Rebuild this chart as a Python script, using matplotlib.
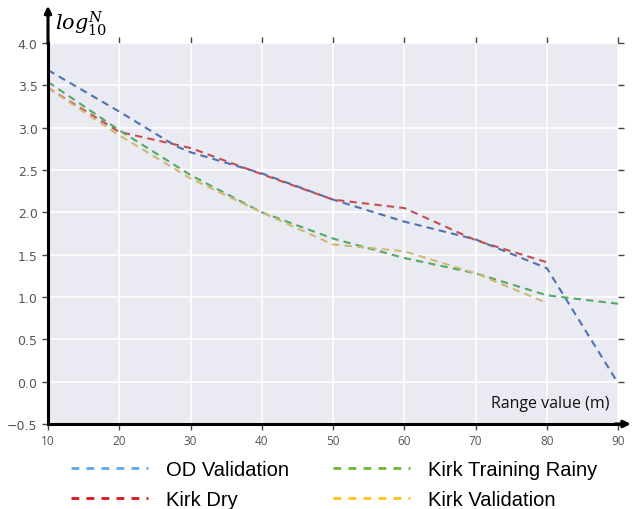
import matplotlib
matplotlib.use('Agg')
import matplotlib.pyplot as plt
from matplotlib.lines import Line2D
import numpy as np

# values (log10 N against range in m)
od_x = [10, 20, 28, 30, 40, 50, 60, 70, 80, 90]
od_y = [3.68, 3.19, 2.78, 2.71, 2.46, 2.15, 1.89, 1.68, 1.34, -0.02]

dry_x = [10, 20, 30, 40, 50, 60, 70, 80]
dry_y = [3.47, 2.95, 2.76, 2.45, 2.15, 2.05, 1.67, 1.41]

rainy_x = [10, 20, 30, 40, 50, 60, 70, 80, 90]
rainy_y = [3.54, 2.97, 2.44, 2.00, 1.69, 1.46, 1.28, 1.02, 0.92]

val_x = [10, 20, 30, 40, 50, 60, 70, 80]
val_y = [3.47, 2.91, 2.40, 2.00, 1.62, 1.54, 1.28, 0.93]

x_ticks = [10, 20, 30, 40, 50, 60, 70, 80, 90]
y_ticks = [-0.5, 0.0, 0.5, 1.0, 1.5, 2.0, 2.5, 3.0, 3.5, 4.0]

fig = plt.figure(figsize=(6.34, 5.10), dpi=100)
ax = fig.add_axes([0.0757, 0.1667, 0.8993, 0.747])
ax.set_facecolor('#EAEAF2')

dash = (0, (3.5, 2.5))
ax.plot(od_x, od_y, linestyle=dash, color='#4C72B0', lw=1.5)
ax.plot(dry_x, dry_y, linestyle=dash, color='#C44E52', lw=1.5)
ax.plot(rainy_x, rainy_y, linestyle=dash, color='#55A868', lw=1.5)
ax.plot(val_x, val_y, linestyle=dash, color='#CCB974', lw=1.5)

ax.set_xlim(10, 90)
ax.set_ylim(-0.5, 4.0)
ax.set_xticks(x_ticks)
ax.set_yticks(y_ticks)
ax.set_yticklabels([f'{v:.1f}'.replace('-', '\u2212') for v in y_ticks])
ax.grid(True, color='white', lw=1.2)
ax.set_axisbelow(True)

ax.tick_params(axis='both', direction='out', length=4, width=1, color='#444444',
               labelcolor='#555555', labelsize=9,
               top=True, right=True, labeltop=False, labelright=False)
for lab in ax.get_xticklabels():
    lab.set_fontfamily('Open Sans')
    lab.set_fontsize(8.5)

for s in ['top', 'right']:
    ax.spines[s].set_visible(False)
for s in ['left', 'bottom']:
    ax.spines[s].set_linewidth(2.2)
    ax.spines[s].set_color('black')

# arrows at the ends of the axes
ax.annotate('', xy=(0, 1.105), xytext=(0, 0.99), xycoords='axes fraction',
            arrowprops=dict(arrowstyle='-|>', color='black', lw=2.2, mutation_scale=10),
            annotation_clip=False)
ax.annotate('', xy=(1.027, 0), xytext=(0.99, 0), xycoords='axes fraction',
            arrowprops=dict(arrowstyle='-|>', color='black', lw=2.2, mutation_scale=10),
            annotation_clip=False)

fig.text(0.086, 0.942, r'$log_{10}^N$', fontsize=15, color='black',
         math_fontfamily='dejavuserif', ha='left', va='baseline')
ax.text(0.985, 0.035, 'Range value (m)', transform=ax.transAxes, ha='right', va='bottom',
        fontsize=11.5, family='Open Sans', color='#111111')

leg_dash = (0, (2.8, 2.6))
handles = [
    Line2D([], [], color='#5DA9E9', lw=2, linestyle=leg_dash),
    Line2D([], [], color='#D9141C', lw=2, linestyle=leg_dash),
    Line2D([], [], color='#6DB33F', lw=2, linestyle=leg_dash),
    Line2D([], [], color='#FFC20E', lw=2, linestyle=leg_dash),
]
labels = ['OD Validation', 'Kirk Dry', 'Kirk Training Rainy', 'Kirk Validation']
fig.legend(handles, labels, loc='lower center', bbox_to_anchor=(0.527, -0.036), ncol=2,
           frameon=False, handlelength=3.8, columnspacing=2.2, handletextpad=0.9,
           labelspacing=0.55, prop={'family': 'Liberation Sans', 'size': 14.5})

fig.savefig('out.png', dpi=100)
